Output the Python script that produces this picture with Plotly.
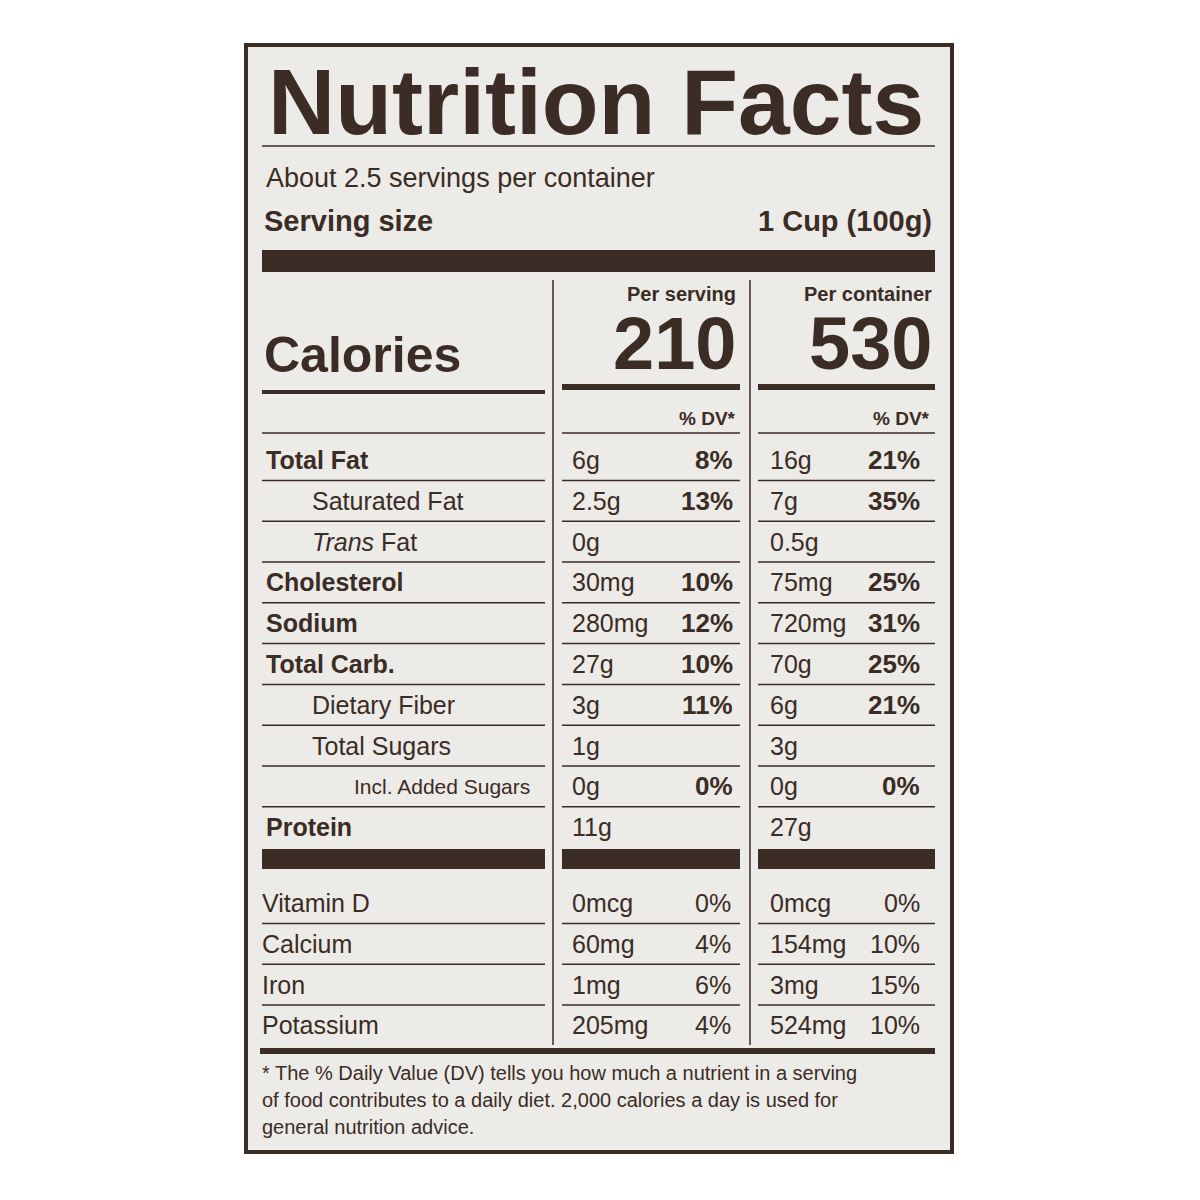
import plotly.graph_objects as go

INK = "#3b2c25"
BG = "#ecebe7"

nutrients = ["Total Fat", "Saturated Fat", "<i>Trans</i> Fat", "Cholesterol", "Sodium",
             "Total Carb.", "Dietary Fiber", "Total Sugars", "Incl. Added Sugars", "Protein"]
bold_rows = [True, False, False, True, True, True, False, False, False, True]
indent = [0, 1, 1, 0, 0, 0, 1, 1, 2, 0]
serv_amt = ["6g", "2.5g", "0g", "30mg", "280mg", "27g", "3g", "1g", "0g", "11g"]
serv_dv = ["8%", "13%", "", "10%", "12%", "10%", "11%", "", "0%", ""]
cont_amt = ["16g", "7g", "0.5g", "75mg", "720mg", "70g", "6g", "3g", "0g", "27g"]
cont_dv = ["21%", "35%", "", "25%", "31%", "25%", "21%", "", "0%", ""]

vitamins = ["Vitamin D", "Calcium", "Iron", "Potassium"]
vit_serv_amt = ["0mcg", "60mg", "1mg", "205mg"]
vit_serv_dv = ["0%", "4%", "6%", "4%"]
vit_cont_amt = ["0mcg", "154mg", "3mg", "524mg"]
vit_cont_dv = ["0%", "10%", "15%", "10%"]

cal_serving = "210"
cal_container = "530"

SANS = "Liberation Sans, Arial"
NARROW = "Liberation Sans Narrow, Liberation Sans, Arial"

fig = go.Figure()
shapes = []
ann = []


def text(x, y, s, size, bold=False, anchor="left", font=SANS, va="middle"):
    ann.append(dict(x=x, y=y, text=f"<b>{s}</b>" if bold else s, showarrow=False,
                    xanchor=anchor, yanchor=va, font=dict(family=font, size=size, color=INK)))


def rect(x0, y0, x1, y1):
    shapes.append(dict(type="rect", x0=x0, y0=y0, x1=x1, y1=y1, fillcolor=INK, line_width=0))


def hline(x0, x1, y, w=1.5):
    shapes.append(dict(type="line", x0=x0, x1=x1, y0=y, y1=y, line=dict(color=INK, width=w)))


# label box
shapes.append(dict(type="rect", x0=246, y0=45, x1=952, y1=1152, fillcolor=BG,
                   line=dict(color=INK, width=4), layer="below"))

text(266, 102, "Nutrition Facts", 93, bold=True)
hline(262, 935, 146)
text(264, 178, "About 2.5 servings per container", 27)
text(262, 221, "Serving size", 29, bold=True)
text(934, 221, "1 Cup (100g)", 29, bold=True, anchor="right")
rect(262, 250, 935, 272)

# column separators
for xv in (553, 750):
    shapes.append(dict(type="line", x0=xv, x1=xv, y0=280, y1=1045, line=dict(color=INK, width=1.5)))

text(738, 294, "Per serving", 20, bold=True, anchor="right")
text(934, 294, "Per container", 20, bold=True, anchor="right")
text(262, 355, "Calories", 50, bold=True)
text(738, 343, cal_serving, 74, bold=True, anchor="right")
text(934, 343, cal_container, 74, bold=True, anchor="right")
hline(262, 545, 392, 4)
rect(562, 384, 740, 390)
rect(758, 384, 935, 390)
text(738, 418, "% DV*", 19, bold=True, anchor="right")
text(932, 418, "% DV*", 19, bold=True, anchor="right")
hline(262, 545, 433)
hline(562, 740, 433)
hline(758, 935, 433)

y0, step = 460, 40.8
for i, name in enumerate(nutrients):
    y = y0 + i * step
    text(264 + indent[i] * 46 - (4 if indent[i] == 2 else 0), y, name,
         25 if indent[i] < 2 else 21, bold=bold_rows[i],
         font=SANS if indent[i] < 2 else NARROW)
    text(570, y, serv_amt[i], 25, font=NARROW)
    text(735, y, serv_dv[i], 26, bold=True, anchor="right", font=NARROW)
    text(768, y, cont_amt[i], 25, font=NARROW)
    text(922, y, cont_dv[i], 26, bold=True, anchor="right", font=NARROW)
    if i < len(nutrients) - 1:
        yl = y + step / 2
        hline(262, 545, yl)
        hline(562, 740, yl)
        hline(758, 935, yl)

rect(262, 849, 545, 869)
rect(562, 849, 740, 869)
rect(758, 849, 935, 869)

v0 = 903
for i, name in enumerate(vitamins):
    y = v0 + i * step
    text(260, y, name, 25)
    text(570, y, vit_serv_amt[i], 25, font=NARROW)
    text(733, y, vit_serv_dv[i], 25, anchor="right", font=NARROW)
    text(768, y, vit_cont_amt[i], 25, font=NARROW)
    text(922, y, vit_cont_dv[i], 25, anchor="right", font=NARROW)
    if i < len(vitamins) - 1:
        yl = y + step / 2
        hline(262, 545, yl)
        hline(562, 740, yl)
        hline(758, 935, yl)

rect(260, 1048, 935, 1054)
footer = ["* The % Daily Value (DV) tells you how much a nutrient in a serving",
          "of food contributes to a daily diet. 2,000 calories a day is used for",
          "general nutrition advice."]
for i, line in enumerate(footer):
    text(260, 1073 + i * 27, line, 20)

# page body has an 8px margin, so shift the coordinate frame to compensate
fig.update_layout(shapes=shapes, annotations=ann, width=1200, height=1200,
                  margin=dict(l=0, r=0, t=0, b=0), paper_bgcolor="white", plot_bgcolor="white",
                  showlegend=False)
fig.update_xaxes(range=[8, 1208], visible=False)
fig.update_yaxes(range=[1208, 8], visible=False)
fig.write_html("out.html")
